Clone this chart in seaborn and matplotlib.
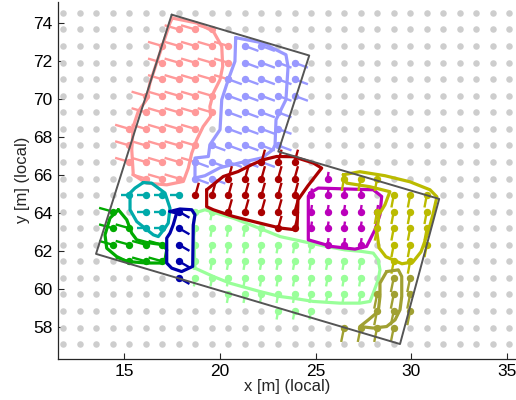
import numpy as np
import matplotlib
matplotlib.use("Agg")
import matplotlib.pyplot as plt
import seaborn as sns

# ---------------- data ----------------
GRID_X = [11.80, 12.66, 13.53, 14.39, 15.26, 16.12, 16.98, 17.85, 18.71, 19.58,
          20.44, 21.31, 22.17, 23.04, 23.90, 24.76, 25.63, 26.49, 27.36, 28.22,
          29.09, 29.95, 30.82, 31.68, 32.55, 33.41, 34.27, 35.14]
GRID_Y = [74.53, 73.66, 72.79, 71.91, 71.04, 70.17, 69.30, 68.43, 67.56, 66.69,
          65.82, 64.95, 64.08, 63.21, 62.34, 61.47, 60.60, 59.73, 58.86, 57.98, 57.11]

BOUND_X = [17.47, 24.67, 23.05, 31.47, 29.42, 13.51]
BOUND_Y = [74.44, 72.29, 67.24, 64.75, 57.12, 61.86]

X_TICKS = [15, 20, 25, 30, 35]
Y_TICKS = [58, 60, 62, 64, 66, 68, 70, 72, 74]

# cluster rows: (grid row, first grid col, last grid col)
PINK_ROWS = [(1, 7, 9), (2, 6, 10), (3, 6, 10), (4, 6, 10), (5, 5, 9), (6, 5, 9),
             (7, 4, 8), (8, 4, 8), (9, 4, 8), (10, 5, 7)]
PINK_UV = (-0.75, 0.22)
PINK_OUT_X = [17.50, 18.78, 19.65, 20.09, 20.14, 20.00, 19.65, 19.47, 19.51, 19.12, 18.78,
              18.52, 18.34, 18.08, 17.21, 16.16, 15.46, 15.38, 15.46, 15.72, 16.16, 16.33,
              16.68, 17.03, 17.38]
PINK_OUT_Y = [74.26, 74.00, 73.56, 72.77, 71.72, 71.02, 70.32, 69.61, 69.09, 68.56, 67.86,
              67.16, 66.37, 65.67, 65.49, 65.58, 66.02, 67.34, 68.56, 69.35, 69.97, 70.84,
              71.90, 72.95, 74.00]

LILAC_ROWS = [(2, 11, 12), (3, 11, 14), (4, 10, 14), (5, 10, 14), (6, 10, 13), (7, 10, 13),
              (8, 9, 13), (9, 8, 12), (10, 8, 9)]
LILAC_UV = (0.70, -0.26)
LILAC_OUT_X = [20.82, 22.20, 23.45, 23.56, 23.45, 23.19, 22.93, 22.88, 22.77, 22.20, 21.04,
               20.00, 19.21, 18.69, 18.69, 19.39, 19.47, 20.00, 20.09, 20.43, 20.78]
LILAC_OUT_Y = [73.23, 72.96, 72.33, 71.70, 69.97, 69.44, 68.91, 67.60, 67.34, 66.91, 66.65,
               66.39, 65.97, 65.85, 66.90, 66.98, 67.60, 68.39, 69.97, 71.02, 71.98]

RED_ROWS = [(9, 12, 14), (10, 10, 14), (11, 8, 14), (12, 10, 14), (13, 13, 14)]
RED_UV = (0.18, 0.65)
RED_OUT_X = [19.30, 20.17, 20.95, 21.66, 22.26, 22.96, 23.83, 24.88, 25.32, 24.60, 24.08,
             24.03, 23.92, 23.14, 22.44, 21.39, 20.69, 19.65, 19.30]
RED_OUT_Y = [65.23, 65.93, 66.19, 66.55, 66.81, 66.98, 66.97, 66.64, 66.37, 65.44, 64.70,
             63.23, 63.13, 63.22, 63.39, 63.65, 63.83, 64.18, 64.34]

MAG_ROWS = [(10, 16, 16), (11, 15, 18), (12, 15, 19), (13, 15, 18), (14, 16, 18)]
MAG_UV = (0.05, 0.35)
MAG_OUT_X = [24.71, 25.14, 28.02, 28.46, 28.37, 28.11, 27.67, 27.06, 25.84, 24.62, 24.62]
MAG_OUT_Y = [65.06, 65.32, 65.23, 64.88, 63.92, 63.13, 62.25, 62.11, 62.25, 62.60, 64.88]

YEL_ROWS = [(10, 17, 19), (11, 20, 22), (12, 19, 22), (13, 19, 22), (14, 20, 22), (15, 20, 21)]
YEL_UV = (-0.12, -0.65)
YEL_OUT_X = [26.45, 27.32, 28.63, 29.94, 30.99, 31.35, 31.14, 30.88, 30.52, 30.10, 29.52,
             28.68, 28.32, 28.21, 28.32, 28.63, 28.89, 27.85, 26.63]
YEL_OUT_Y = [66.02, 66.18, 65.97, 65.65, 65.23, 64.86, 63.92, 62.97, 61.97, 61.44, 61.34,
             61.71, 62.18, 63.02, 63.92, 64.44, 65.13, 65.39, 65.58]

OLV_ROWS = [(16, 20, 21), (17, 19, 21), (18, 19, 21), (19, 17, 20)]
OLV_UV = (-0.15, -0.75)
OLV_OUT_X = [28.72, 29.33, 29.51, 29.51, 29.42, 29.16, 28.72, 28.02, 27.32, 27.76, 28.28,
             28.37, 28.37]
OLV_OUT_Y = [60.93, 61.02, 60.67, 59.62, 58.92, 58.39, 58.04, 57.96, 58.04, 58.39, 58.83,
             59.62, 60.32]

LGR_ROWS = [(12, 8, 9), (13, 8, 12), (14, 8, 15), (15, 8, 18), (16, 8, 18), (17, 10, 18),
            (18, 13, 15)]
LGR_UV = (-0.08, -0.45)
LGR_OUT_X = [18.69, 19.21, 20.69, 22.26, 23.14, 24.71, 25.58, 26.54, 27.41, 28.02, 28.28,
             28.37, 28.28, 28.02, 27.85, 27.32, 26.28, 24.88, 23.83, 23.14, 22.09, 20.52,
             19.65, 18.69, 18.60]
LGR_OUT_Y = [64.01, 64.18, 63.74, 63.13, 62.77, 62.43, 62.25, 62.07, 61.99, 61.90, 61.55,
             61.02, 60.50, 59.80, 59.36, 59.27, 59.27, 59.36, 59.53, 59.62, 59.88, 60.32,
             60.67, 61.11, 63.30]

DBL_ROWS = [(12, 7, 7), (13, 7, 7), (14, 7, 7), (15, 7, 7), (16, 7, 7)]
DBL_UV = (0.55, -0.32)
DBL_OUT_X = [17.38, 17.90, 18.52, 18.69, 18.60, 18.57, 17.99, 17.47, 17.21, 17.21, 17.38,
             17.55, 17.73]
DBL_OUT_Y = [64.09, 64.22, 64.18, 63.92, 63.39, 61.20, 60.93, 61.11, 61.38, 62.69, 62.95,
             63.39, 64.01]

TEAL_ROWS = [(11, 4, 7), (12, 5, 6), (13, 5, 6)]
TEAL_UV = (-0.45, 0.0)
TEAL_OUT_X = [15.98, 16.42, 17.12, 17.38, 17.29, 17.12, 16.77, 16.51, 15.64, 15.29, 15.29, 15.55]
TEAL_OUT_Y = [65.61, 65.58, 65.06, 64.27, 63.48, 63.22, 62.77, 62.86, 63.56, 64.18, 65.06, 65.32]

GRN_ROWS = [(12, 3, 3), (13, 3, 4), (14, 3, 6), (15, 4, 6)]
GRN_UV = (-0.72, 0.20)
GRN_OUT_X = [14.68, 15.12, 15.38, 15.64, 16.16, 17.03, 17.21, 17.12, 16.86, 16.16, 15.12,
             14.59, 14.07, 13.98, 14.24]
GRN_OUT_Y = [64.18, 63.65, 62.95, 62.60, 62.46, 62.34, 62.07, 61.55, 61.38, 61.38, 61.46,
             61.72, 62.16, 62.86, 63.74]

CLUSTERS = [
    ("#99FF99", LGR_ROWS, LGR_UV, LGR_OUT_X, LGR_OUT_Y),
    ("#FF9999", PINK_ROWS, PINK_UV, PINK_OUT_X, PINK_OUT_Y),
    ("#9999FF", LILAC_ROWS, LILAC_UV, LILAC_OUT_X, LILAC_OUT_Y),
    ("#00AAAA", TEAL_ROWS, TEAL_UV, TEAL_OUT_X, TEAL_OUT_Y),
    ("#00AA00", GRN_ROWS, GRN_UV, GRN_OUT_X, GRN_OUT_Y),
    ("#0000AA", DBL_ROWS, DBL_UV, DBL_OUT_X, DBL_OUT_Y),
    ("#AA0000", RED_ROWS, RED_UV, RED_OUT_X, RED_OUT_Y),
    ("#BB00BB", MAG_ROWS, MAG_UV, MAG_OUT_X, MAG_OUT_Y),
    ("#BBBB00", YEL_ROWS, YEL_UV, YEL_OUT_X, YEL_OUT_Y),
    ("#A0A032", OLV_ROWS, OLV_UV, OLV_OUT_X, OLV_OUT_Y),
]

# ---------------- plot ----------------
sns.set_theme(style="white")
plt.rcParams["font.family"] = ["Liberation Sans", "DejaVu Sans"]

fig = plt.figure(figsize=(5.16, 4.0), dpi=100)
ax = fig.add_axes([0.1124, 0.1033, 0.8876, 0.892])

gx, gy = np.meshgrid(GRID_X, GRID_Y)
sns.scatterplot(x=gx.ravel(), y=gy.ravel(), color="#CDCDCD", s=22, linewidth=0,
                ax=ax, zorder=1, legend=False)

z = 2
for color, rows, uv, ox, oy in CLUSTERS:
    px, py = [], []
    for r, c0, c1 in rows:
        for c in range(c0, c1 + 1):
            px.append(GRID_X[c])
            py.append(GRID_Y[r])
    px = np.array(px)
    py = np.array(py)
    sx = np.column_stack([px, px + uv[0], np.full_like(px, np.nan)]).ravel()
    sy = np.column_stack([py, py + uv[1], np.full_like(py, np.nan)]).ravel()
    ax.plot(sx, sy, color=color, lw=1.7, solid_capstyle="butt", zorder=z)
    sns.scatterplot(x=px, y=py, color=color, s=28, linewidth=0, ax=ax,
                    zorder=z + 0.1, legend=False)
    ax.plot(list(ox) + [ox[0]], list(oy) + [oy[0]], color=color, lw=2.3,
            solid_joinstyle="round", zorder=z + 0.2)
    z += 1

ax.plot(BOUND_X + [BOUND_X[0]], BOUND_Y + [BOUND_Y[0]], color="#555555", lw=1.4,
        zorder=50)

ax.set_xlim(11.52, 35.49)
ax.set_ylim(56.35, 75.11)
ax.set_xticks(X_TICKS)
ax.set_yticks(Y_TICKS)
ax.tick_params(direction="in", length=4, width=0.8, colors="#262626",
               labelsize=12.5, labelcolor="#000000", bottom=True, left=True, pad=4)
for s in ["top", "right"]:
    ax.spines[s].set_visible(False)
for s in ["left", "bottom"]:
    ax.spines[s].set_color("#262626")
    ax.spines[s].set_linewidth(0.9)
ax.set_xlabel("x [m] (local)", fontsize=12, labelpad=0)
ax.set_ylabel("y [m] (local)", fontsize=12, labelpad=2)

fig.savefig("out.png", dpi=100)
